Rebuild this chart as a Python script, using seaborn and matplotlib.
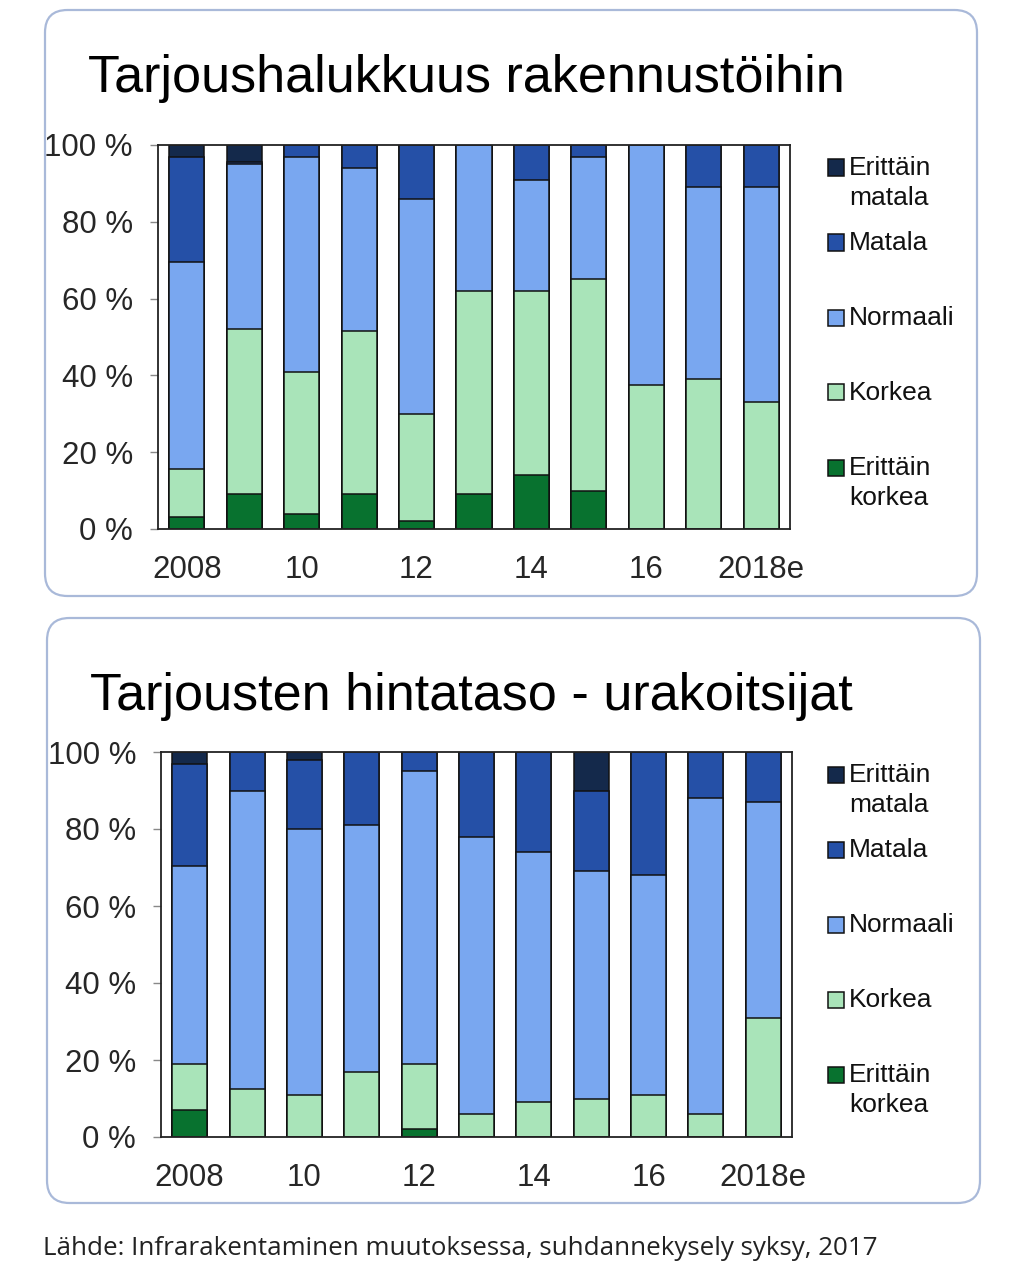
import numpy as np
import seaborn as sns
import matplotlib.pyplot as plt
from matplotlib.patches import FancyBboxPatch, Rectangle

# years on the x axis
years = ["2008", "2009", "2010", "2011", "2012", "2013", "2014", "2015", "2016", "2017", "2018e"]
year_labels = ["2008", "", "10", "", "12", "", "14", "", "16", "", "2018e"]

levels = ["Erittäin korkea", "Korkea", "Normaali", "Matala", "Erittäin matala"]
legend_labels = ["Erittäin\nmatala", "Matala", "Normaali", "Korkea", "Erittäin\nkorkea"]
colors = ["#08722f", "#a9e4b9", "#79a7f0", "#2550a7", "#14294b"]

# Tarjoushalukkuus rakennustöihin (%)
top_erittain_korkea = [3, 9, 4, 9, 2, 9, 14, 10, 0, 0, 0]
top_korkea = [12.5, 43, 37, 42.5, 28, 53, 48, 55, 37.5, 39, 33]
top_normaali = [54, 43, 56, 42.5, 56, 38, 29, 32, 62.5, 50, 56]
top_matala = [27.5, 0.7, 3, 6, 14, 0, 9, 3, 0, 11, 11]
top_erittain_matala = [3, 4.3, 0, 0, 0, 0, 0, 0, 0, 0, 0]

# Tarjousten hintataso - urakoitsijat (%)
bot_erittain_korkea = [7, 0, 0, 0, 2, 0, 0, 0, 0, 0, 0]
bot_korkea = [12, 12.5, 11, 17, 17, 6, 9, 10, 11, 6, 31]
bot_normaali = [51.5, 77.5, 69, 64, 76, 72, 65, 59, 57, 82, 56]
bot_matala = [26.5, 10, 18, 19, 5, 22, 26, 21, 32, 12, 13]
bot_erittain_matala = [3, 0, 2, 0, 0, 0, 0, 10, 0, 0, 0]

sns.set_style("white")
plt.rcParams["font.family"] = ["Liberation Sans", "DejaVu Sans"]

W, H = 1024, 1265
fig = plt.figure(figsize=(W / 100, H / 100), dpi=100)


def px_box(x0, y0, x1, y1):
    return [x0 / W, 1 - y1 / H, (x1 - x0) / W, (y1 - y0) / H]


# rounded panel frames
for (x0, y0, x1, y1) in [(45, 10, 977, 596), (47, 618, 980, 1203)]:
    fig.patches.append(FancyBboxPatch((x0 / W, 1 - y1 / H), (x1 - x0) / W, (y1 - y0) / H,
                                      boxstyle="round,pad=0,rounding_size=0.022",
                                      transform=fig.transFigure, facecolor="none",
                                      edgecolor="#a9b9d9", linewidth=1.6, mutation_aspect=W / H))


def stacked(ax, series, title, title_xy):
    stack = np.cumsum(np.array(series, dtype=float), axis=0)
    # draw tallest cumulative first so lower segments sit on top
    for i in range(len(series) - 1, -1, -1):
        sns.barplot(x=years, y=stack[i], order=years, color=colors[i], width=0.61,
                    edgecolor="#111111", linewidth=1.1, saturation=1, ax=ax)
    ax.set_xlim(-0.5, 10.5)
    ax.set_ylim(0, 100)
    ax.set_yticks(range(0, 101, 20))
    ax.set_yticklabels([f"{v} %" for v in range(0, 101, 20)])
    ax.set_xticks(range(len(years)))
    ax.set_xticklabels(year_labels)
    ax.set_xticks(np.arange(-0.5, 11, 1), minor=True)
    ax.tick_params(axis="x", which="major", length=0, pad=19, labelsize=22.5)
    ax.tick_params(axis="x", which="minor", length=5, width=1, color="#888888", direction="out")
    ax.tick_params(axis="y", length=6, width=1, color="#888888", pad=12, labelsize=22.5, left=True)
    ax.set_xlabel("")
    ax.set_ylabel("")
    for s in ax.spines.values():
        s.set_visible(True)
        s.set_color("#222222")
        s.set_linewidth(1.3)
    fig.text(title_xy[0] / W, 1 - title_xy[1] / H, title, fontsize=37.5,
             ha="left", va="baseline", color="black")
    # legend entries, top to bottom
    bbox = ax.get_position()
    top_px = (1 - bbox.y1) * H
    for k, lab in enumerate(legend_labels):
        cy = top_px + 22 + 75 * k
        col = colors[len(colors) - 1 - k]
        fig.patches.append(Rectangle((828 / W, 1 - (cy + 8.5) / H), 16 / W, 16 / H,
                                     transform=fig.transFigure, facecolor=col,
                                     edgecolor="#111111", linewidth=1.1))
        fig.text(849 / W, 1 - (cy - 11) / H, lab, fontsize=19, ha="left", va="top",
                 linespacing=1.3, color="#111111")


ax1 = fig.add_axes(px_box(158, 145, 790, 529))
stacked(ax1, [top_erittain_korkea, top_korkea, top_normaali, top_matala, top_erittain_matala],
        "Tarjoushalukkuus rakennustöihin", (88, 92))

ax2 = fig.add_axes(px_box(161, 752, 792, 1137))
stacked(ax2, [bot_erittain_korkea, bot_korkea, bot_normaali, bot_matala, bot_erittain_matala],
        "Tarjousten hintataso - urakoitsijat", (90, 710))

fig.text(43 / W, 1 - 1255 / H, "Lähde: Infrarakentaminen muutoksessa, suhdannekysely syksy, 2017",
         fontsize=18.7, family=["Open Sans", "DejaVu Sans"], ha="left", va="baseline", color="#222222")

fig.savefig("out.png", dpi=100)
